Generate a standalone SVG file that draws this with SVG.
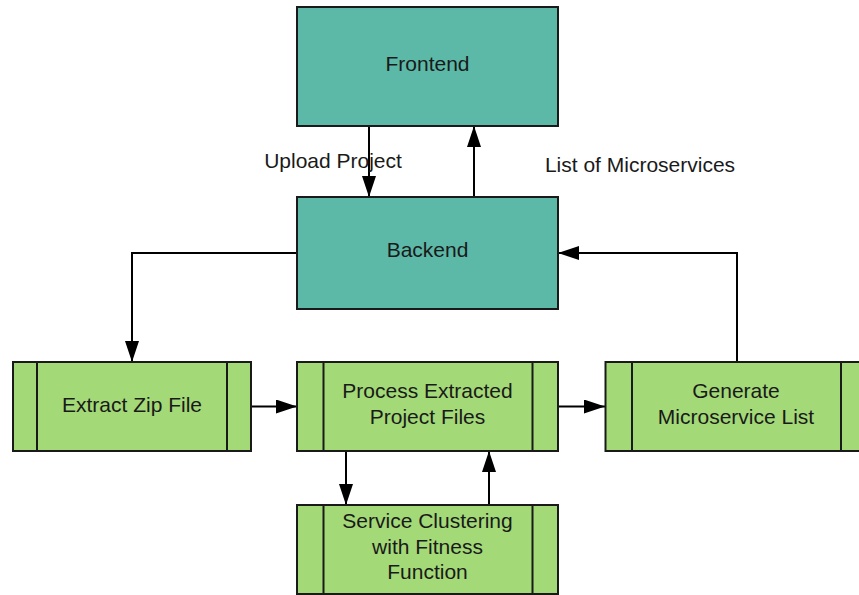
<svg xmlns="http://www.w3.org/2000/svg" width="859" height="595" viewBox="0 0 859 595">
  <defs>
    <marker id="arrow" markerWidth="21" markerHeight="14" refX="21" refY="7" orient="auto" markerUnits="userSpaceOnUse">
      <path d="M0,0 L21,7 L0,14 Z" fill="#000"/>
    </marker>
    <style>
      .server { fill: #5cb9a7; stroke: #1a1a1a; stroke-width: 2; }
      .proc { fill: #a3d977; stroke: #1a1a1a; stroke-width: 2; }
      .bar { stroke: #1a1a1a; stroke-width: 2; fill: none; }
      .label { font-family: "Liberation Sans", Arial, sans-serif; font-size: 21px; fill: #1a1a1a; text-anchor: middle; }
      .edge { fill: none; stroke: #000; stroke-width: 2; marker-end: url(#arrow); }
    </style>
  </defs>
  <rect width="859" height="595" fill="#fff"/>

  <g id="connectors">
    <path class="edge" d="M369,126 V197"/>
    <path class="edge" d="M474,197 V126"/>
    <path class="edge" d="M297,253 H132 V362"/>
    <path class="edge" d="M251,406.5 H297"/>
    <path class="edge" d="M558,406.5 H605"/>
    <path class="edge" d="M737,362 V253 H558"/>
    <path class="edge" d="M346,451 V505"/>
    <path class="edge" d="M489,505 V451"/>
    <text class="label" x="333" y="168">Upload Project</text>
    <text class="label" x="640" y="172">List of Microservices</text>
  </g>

  <g id="frontend">
    <rect class="server" x="297" y="7" width="261" height="119"/>
    <text class="label" x="427.5" y="71">Frontend</text>
  </g>

  <g id="backend">
    <rect class="server" x="297" y="197" width="261" height="112"/>
    <text class="label" x="427.5" y="257">Backend</text>
  </g>

  <g id="extract-zip">
    <rect class="proc" x="13" y="362" width="238" height="89"/>
    <path class="bar" d="M37,362 V451 M227,362 V451"/>
    <text class="label" x="132" y="412">Extract Zip File</text>
  </g>

  <g id="process-files">
    <rect class="proc" x="297" y="362" width="261" height="89"/>
    <path class="bar" d="M323.5,362 V451 M532.5,362 V451"/>
    <text class="label" x="427.5" y="398">Process Extracted</text>
    <text class="label" x="427.5" y="424">Project Files</text>
  </g>

  <g id="generate-list">
    <rect class="proc" x="605.5" y="362" width="261" height="89"/>
    <path class="bar" d="M632,362 V451 M841,362 V451"/>
    <text class="label" x="736" y="398">Generate</text>
    <text class="label" x="736" y="424">Microservice List</text>
  </g>

  <g id="service-clustering">
    <rect class="proc" x="297" y="505" width="261" height="89"/>
    <path class="bar" d="M323.5,505 V594 M532.5,505 V594"/>
    <text class="label" x="427.5" y="528">Service Clustering</text>
    <text class="label" x="427.5" y="554">with Fitness</text>
    <text class="label" x="427.5" y="579">Function</text>
  </g>
</svg>
